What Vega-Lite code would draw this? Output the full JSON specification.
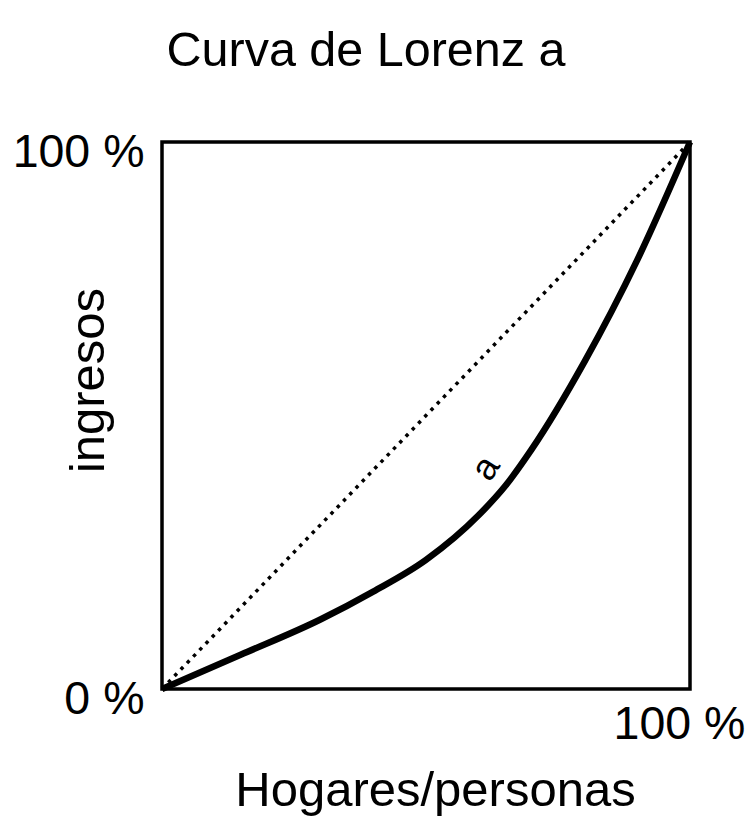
{
  "$schema": "https://vega.github.io/schema/vega-lite/v6.json",
  "width": 528,
  "height": 547,
  "autosize": "none",
  "padding": {"left": 162, "top": 142, "right": 60, "bottom": 130},
  "background": "white",
  "config": {
    "view": {"stroke": "black", "strokeWidth": 3.5},
    "font": "Liberation Sans",
    "axis": {
      "grid": false, "domain": false, "ticks": false,
      "labelFont": "Liberation Sans", "labelFontSize": 46.5, "labelColor": "black",
      "titleFont": "Liberation Sans", "titleFontSize": 49, "titleFontWeight": "normal", "titleColor": "black"
    }
  },
  "title": {
    "text": "Curva de Lorenz a",
    "font": "Liberation Sans", "fontSize": 48.5, "fontWeight": "normal", "color": "black",
    "frame": "group", "anchor": "middle", "dx": -60, "offset": 15, "baseline": "alphabetic"
  },
  "datasets": {
    "diag": [{"x": 0, "y": 0}, {"x": 1, "y": 1}],
    "curve": [
      {"x": 0, "y": 0},
      {"x": 0.15, "y": 0.063},
      {"x": 0.3, "y": 0.127},
      {"x": 0.4, "y": 0.178},
      {"x": 0.5, "y": 0.236},
      {"x": 0.6, "y": 0.318},
      {"x": 0.65, "y": 0.371},
      {"x": 0.7, "y": 0.438},
      {"x": 0.8, "y": 0.598},
      {"x": 0.9, "y": 0.784},
      {"x": 1, "y": 1}
    ],
    "label": [{"x": 0.614, "y": 0.403, "t": "a"}]
  },
  "layer": [
    {
      "data": {"name": "diag"},
      "mark": {"type": "line", "color": "black", "strokeWidth": 3.5, "strokeDash": [3.5, 5.5], "strokeCap": "butt"},
      "encoding": {
        "x": {"field": "x", "type": "quantitative", "scale": {"domain": [0, 1], "nice": false},
          "axis": {"values": [1], "labelExpr": "datum.value*100 + ' %'", "labelPadding": 12, "labelBaseline": "top", "labelFlush": false, "labelAlign": "center", "labelOffset": -11,
            "title": "Hogares/personas", "titleX": 273, "titleY": 101, "titleBaseline": "middle", "titleAlign": "center"}},
        "y": {"field": "y", "type": "quantitative", "scale": {"domain": [0, 1], "nice": false},
          "axis": {"values": [0, 1], "labelExpr": "datum.value*100 + ' %'", "labelPadding": 18, "labelFlush": false, "labelOffset": 10,
            "title": "ingresos", "titleAngle": -90, "titleX": -74, "titleY": 238, "titleBaseline": "middle", "titleAlign": "center"}}
      }
    },
    {
      "data": {"name": "curve"},
      "mark": {"type": "line", "color": "black", "strokeWidth": 6.5, "interpolate": "monotone"},
      "encoding": {
        "x": {"field": "x", "type": "quantitative"},
        "y": {"field": "y", "type": "quantitative"}
      }
    },
    {
      "data": {"name": "label"},
      "mark": {"type": "text", "fontSize": 37, "font": "Liberation Sans", "color": "black", "angle": -58, "align": "center", "baseline": "middle"},
      "encoding": {
        "x": {"field": "x", "type": "quantitative"},
        "y": {"field": "y", "type": "quantitative"},
        "text": {"field": "t"}
      }
    }
  ]
}
